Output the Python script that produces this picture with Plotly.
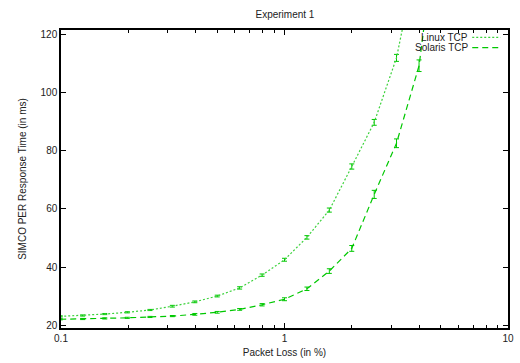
import plotly.graph_objects as go

# Packet loss values (in %), geometric steps of 2^(1/3)
loss = [0.0992, 0.125, 0.157, 0.198, 0.25, 0.315, 0.397, 0.5, 0.63, 0.794,
        1.0, 1.26, 1.587, 2.0, 2.52, 3.17, 4.0, 5.04]

linux_tcp = [23.0, 23.3, 23.8, 24.4, 25.2, 26.5, 28.0, 30.0, 32.8, 37.2,
             42.5, 50.2, 59.6, 74.6, 89.8, 112.0, 150.0, 200.0]
linux_err = [0.2, 0.2, 0.2, 0.2, 0.2, 0.3, 0.3, 0.3, 0.4, 0.4,
             0.5, 0.6, 0.7, 0.9, 1.0, 1.2, 1.5, 2.0]

solaris_tcp = [22.0, 22.1, 22.3, 22.5, 22.8, 23.1, 23.7, 24.4, 25.4, 27.0,
               28.9, 32.5, 38.6, 46.4, 65.0, 82.6, 109.3, 170.0]
solaris_err = [0.2, 0.2, 0.2, 0.2, 0.2, 0.2, 0.3, 0.3, 0.3, 0.4,
               0.5, 0.6, 0.8, 1.0, 1.4, 1.5, 2.0, 2.5]

series_names = ["Linux TCP", "Solaris TCP"]
green = "rgb(0,200,0)"
light_green = "rgb(60,210,60)"
font = "Liberation Sans, Arial, Helvetica, sans-serif"
txt = "#222"

fig = go.Figure()
fig.add_trace(go.Scatter(
    x=loss, y=linux_tcp, mode="lines", name=series_names[0],
    line=dict(color=light_green, width=1.2, dash="2px,2px"),
    error_y=dict(type="data", array=linux_err, color=green, thickness=1, width=2.5),
    showlegend=False))
fig.add_trace(go.Scatter(
    x=loss, y=solaris_tcp, mode="lines", name=series_names[1],
    line=dict(color=green, width=1.2, dash="6px,4px"),
    error_y=dict(type="data", array=solaris_err, color=green, thickness=1, width=2.5),
    showlegend=False))

# gnuplot-style key: text right-aligned, sample to the right
for i, (name, dash, col) in enumerate([(series_names[0], "2px,2px", light_green),
                                        (series_names[1], "6px,4px", green)]):
    yp = 0.975 - i * 0.034
    fig.add_annotation(x=0.9125, y=yp, xref="paper", yref="paper", text=name,
                       showarrow=False, xanchor="right", yanchor="middle",
                       borderpad=0,
                       font=dict(family=font, size=10, color=txt))
    fig.add_shape(type="line", xref="paper", yref="paper",
                  x0=0.92, x1=0.983, y0=yp, y1=yp,
                  line=dict(color=col, width=1.2, dash=dash))

axis_common = dict(showline=True, linecolor="black", linewidth=1.5, mirror="allticks",
                   ticks="inside", tickcolor="black", showgrid=False, zeroline=False,
                   automargin=False,
                   tickfont=dict(family=font, size=10, color=txt))

fig.update_xaxes(type="log", range=[-1, 1], tickvals=[0.1, 1, 10],
                 ticktext=["0.1", "1", "10"], ticklen=5,
                 minor=dict(ticks="inside", ticklen=3, tickcolor="black",
                            tickvals=[0.2, 0.3, 0.4, 0.5, 0.6, 0.7, 0.8, 0.9,
                                      2, 3, 4, 5, 6, 7, 8, 9]),
                 title=dict(text="Packet Loss (in %)", standoff=6,
                            font=dict(family=font, size=10, color=txt)),
                 **axis_common)
fig.update_yaxes(range=[19, 121.6], tickvals=[20, 40, 60, 80, 100, 120], ticklen=5,
                 title=dict(text="SIMCO PER Response Time (in ms)", standoff=12,
                            font=dict(family=font, size=10, color=txt)),
                 **axis_common)

fig.update_layout(
    width=520, height=363,
    margin=dict(l=61, r=12, t=30, b=35),
    paper_bgcolor="white", plot_bgcolor="white",
    title=dict(text="Experiment 1", x=0.548, xanchor="center", y=0.96, yanchor="middle",
               font=dict(family=font, size=10, color=txt)),
)

fig.write_html("out.html")
